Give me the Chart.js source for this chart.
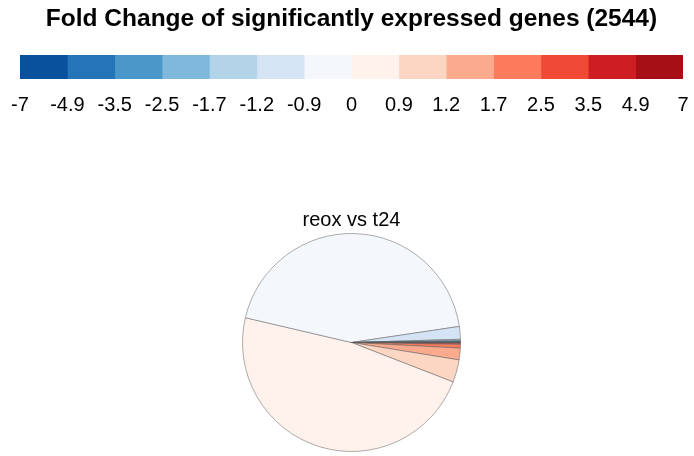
<!DOCTYPE html>
<html>
<head>
<meta charset="utf-8">
<script src="https://cdn.jsdelivr.net/npm/chart.js@4/dist/chart.umd.min.js"></script>
<style>
  html, body { margin: 0; padding: 0; background: #fff; }
  #wrap { position: relative; width: 694px; height: 456px; overflow: hidden; }
  #barCanvas { position: absolute; left: 0; top: 0; }
  #pieCanvas { position: absolute; left: 0; top: 190px; }
</style>
</head>
<body>
<div id="wrap">
  <canvas id="barCanvas" width="694" height="125"></canvas>
  <canvas id="pieCanvas" width="694" height="266"></canvas>
</div>
<script>
// fold change bins (edges of the colour key)
const binEdges = ['-7', '-4.9', '-3.5', '-2.5', '-1.7', '-1.2', '-0.9', '0', '0.9', '1.2', '1.7', '2.5', '3.5', '4.9', '7'];
const binColors = ['#08519c', '#2474b7', '#4a98c9', '#7fb8da', '#b3d3e8', '#d4e4f4', '#f4f8fd',
                   '#fff2ec', '#fcd5c3', '#fcaa8e', '#fb7b5c', '#f04a37', '#cf1e23', '#a50f15'];
// number of genes per bin, reox vs t24
const geneCounts = [1, 1, 2, 3, 5, 48, 1119, 1215, 85, 44, 14, 4, 2, 1];
const mainTitle = 'Fold Change of significantly expressed genes (2544)';
const pieTitle = 'reox vs t24';

const FONT = "'Liberation Sans', Arial, Helvetica, sans-serif";
Chart.defaults.font.family = FONT;
Chart.defaults.color = '#000';
Chart.defaults.animation = false;

// colour key as a stacked horizontal bar
const keyDatasets = binColors.map((c, i) => ({
  label: binEdges[i] + ' to ' + binEdges[i + 1],
  data: [1],
  backgroundColor: c,
  borderWidth: 0,
  barPercentage: 1,
  categoryPercentage: 1
}));

new Chart(document.getElementById('barCanvas'), {
  type: 'bar',
  data: { labels: ['key'], datasets: keyDatasets },
  options: {
    responsive: false,
    indexAxis: 'y',
    layout: { padding: { left: 20, right: 11, top: 0, bottom: 0 } },
    plugins: {
      legend: { display: false },
      tooltip: { enabled: false },
      title: {
        display: true,
        text: mainTitle,
        font: { size: 24.5, weight: 'bold' },
        padding: { top: 5, bottom: 20.6 }
      }
    },
    scales: {
      x: {
        stacked: true,
        min: 0,
        max: binColors.length,
        grid: { display: false, drawTicks: false },
        border: { display: false },
        ticks: {
          stepSize: 1,
          autoSkip: false,
          maxRotation: 0,
          padding: 14,
          font: { size: 20 },
          callback: (v) => binEdges[v]
        },
        // keep the key exactly inside the layout padding
        afterFit: (s) => { s.height = 46; s.paddingLeft = 0; s.paddingRight = 0; }
      },
      y: {
        stacked: true,
        display: false
      }
    }
  }
});

// pie: R draws counter-clockwise from 3 o'clock, so reverse and start at 90deg
new Chart(document.getElementById('pieCanvas'), {
  type: 'pie',
  data: {
    labels: binColors.map((c, i) => binEdges[i] + ' to ' + binEdges[i + 1]).reverse(),
    datasets: [{
      data: geneCounts.slice().reverse(),
      backgroundColor: binColors.slice().reverse(),
      borderColor: '#5a5a5a',
      borderWidth: 0.5
    }]
  },
  options: {
    responsive: false,
    rotation: 90,
    radius: 109,
    layout: { padding: { left: 9, right: 0, top: 0, bottom: 4.5 } },
    plugins: {
      legend: { display: false },
      tooltip: { enabled: false },
      title: {
        display: true,
        text: pieTitle,
        font: { size: 20, weight: 'normal' },
        padding: { top: 18, bottom: 1.5 }
      }
    }
  }
});
</script>
</body>
</html>
